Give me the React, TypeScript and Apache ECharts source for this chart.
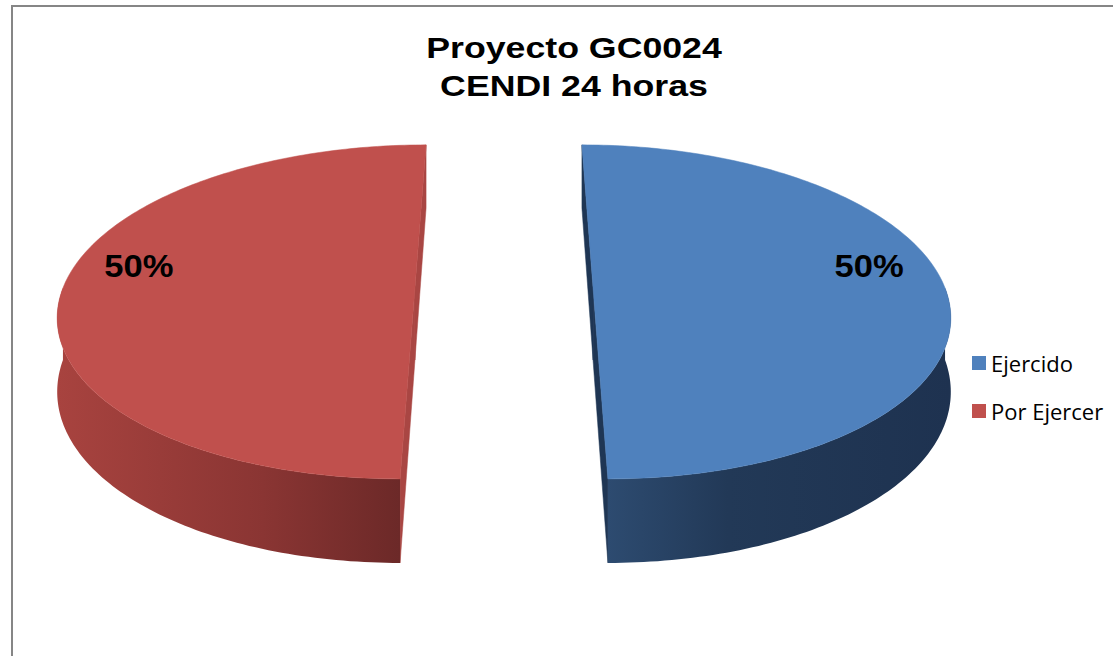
import React, { useEffect, useRef } from "react";
import * as echarts from "echarts";

// ---- data ----
const categories: string[] = ["Ejercido", "Por Ejercer"];
const values: number[] = [50, 50];
const titleText = "Proyecto GC0024\nCENDI 24 horas";

// ---- styling ----
const topColors = ["#4F81BD", "#C0504D"];
const wallStops = [
  [
    [0, "#2D4B70"],
    [0.35, "#223957"],
    [1, "#1E3250"],
  ],
  [
    [0, "#A8433F"],
    [0.6, "#8A3533"],
    [1, "#6C2928"],
  ],
];
const cutColors = ["#1F3654", "#A94643"];

// ---- 3D pie geometry ----
const CX = 504;
const CY = 288;
const RX = 352;
const RY = 163.6;
const K = 0.143; // perspective
const DEPTH = 72;
const EXPLODE = 0.253; // fraction of radius
const START_ANGLE = -90; // degrees, clockwise from 3 o'clock (screen)
const LABEL_R = 0.805;
const LABEL_RAISE = 0.14;

function proj(u: number, v: number, h: number): [number, number] {
  const s = 1 / (1 - K * v);
  return [CX + u * RX * s, CY + (v * RY + h * DEPTH) * s];
}

const total = values.reduce((a, b) => a + b, 0);

function makeRenderItem(i: number) {
  return (_params: any, api: any) => {
    const val = api.value(0);
    let cum = 0;
    for (let j = 0; j < i; j++) cum += values[j];
    const a0 = START_ANGLE + (cum / total) * 360;
    const a1 = a0 + (val / total) * 360;
    const mid = ((a0 + a1) / 2) * (Math.PI / 180);
    const ou = EXPLODE * Math.cos(mid);
    const ov = EXPLODE * Math.sin(mid);
    const pt = (deg: number, r: number, h: number) => {
      const t = (deg * Math.PI) / 180;
      return proj(ou + r * Math.cos(t), ov + r * Math.sin(t), h);
    };
    const steps = Math.max(2, Math.ceil(a1 - a0));
    const angles: number[] = [];
    for (let k = 0; k <= steps; k++) angles.push(a0 + ((a1 - a0) * k) / steps);

    const children: any[] = [];
    // radial cut faces
    [a0, a1].forEach((a) => {
      children.push({
        type: "polygon",
        shape: {
          points: [pt(0, 0, 0), pt(a, 1, 0), pt(a, 1, 1), pt(0, 0, 1)],
        },
        style: { fill: cutColors[i], stroke: cutColors[i], lineWidth: 0.5 },
      });
    });
    // outer wall (front-facing runs)
    let run: number[] = [];
    const runs: number[][] = [];
    angles.forEach((a) => {
      const sn = Math.sin((a * Math.PI) / 180);
      if (sn >= -0.001) run.push(a);
      else if (run.length) {
        runs.push(run);
        run = [];
      }
    });
    if (run.length) runs.push(run);
    runs.forEach((r) => {
      if (r.length < 2) return;
      const topPts = r.map((a) => pt(a, 1, 0));
      const botPts = r.map((a) => pt(a, 1, 1)).reverse();
      const pts = topPts.concat(botPts);
      let minX = Infinity;
      let maxX = -Infinity;
      pts.forEach((p) => {
        minX = Math.min(minX, p[0]);
        maxX = Math.max(maxX, p[0]);
      });
      children.push({
        type: "polygon",
        shape: { points: pts },
        style: {
          fill: new echarts.graphic.LinearGradient(
            minX,
            0,
            maxX,
            0,
            wallStops[i].map((s: any) => ({ offset: s[0], color: s[1] })),
            true
          ),
        },
      });
    });
    // top face
    const topFace = [pt(0, 0, 0)].concat(angles.map((a) => pt(a, 1, 0)));
    children.push({
      type: "polygon",
      shape: { points: topFace },
      style: { fill: topColors[i], stroke: topColors[i], lineWidth: 0.5 },
    });
    // percentage label
    const lp = proj(
      ou + LABEL_R * Math.cos(mid),
      ov + LABEL_R * Math.sin(mid) - LABEL_RAISE,
      0
    );
    children.push({
      type: "text",
      x: lp[0],
      y: lp[1],
      scaleX: 1.08,
      style: {
        text: Math.round((val / total) * 100) + "%",
        fill: "#000000",
        fontFamily: "Liberation Sans, Arial, sans-serif",
        fontWeight: "bold",
        fontSize: 32,
        align: "center",
        verticalAlign: "middle",
      },
    });
    return { type: "group", children };
  };
}

export default function App() {
  const ref = useRef<HTMLDivElement>(null);
  useEffect(() => {
    if (!ref.current) return;
    const chart = echarts.init(ref.current, undefined, { renderer: "svg" });
    chart.setOption({
      animation: false,
      backgroundColor: "#FFFFFF",
      color: topColors,
      legend: {
        data: categories,
        orient: "vertical",
        left: 972,
        top: 352,
        padding: 0,
        icon: "rect",
        itemWidth: 14,
        itemHeight: 14,
        itemGap: 26,
        selectedMode: false,
        textStyle: {
          fontFamily: "Open Sans, sans-serif",
          fontSize: 22,
          lineHeight: 20,
          color: "#000000",
        },
      },
      graphic: [
        {
          type: "rect",
          silent: true,
          z: -10,
          shape: { x: 12, y: 6, width: 1300, height: 900 },
          style: { fill: "none", stroke: "#868686", lineWidth: 2 },
        },
        {
          type: "text",
          x: 574,
          y: 66.5,
          scaleX: 1.19,
          style: {
            text: titleText,
            fill: "#000000",
            fontFamily: "Liberation Sans, Arial, sans-serif",
            fontWeight: "bold",
            fontSize: 30,
            lineHeight: 38,
            align: "center",
            verticalAlign: "middle",
          },
        },
      ],
      series: categories.map((name, i) => ({
        type: "custom",
        name,
        coordinateSystem: "none",
        itemStyle: { color: topColors[i] },
        data: [[values[i]]],
        renderItem: makeRenderItem(i),
        silent: true,
      })),
    });
    return () => chart.dispose();
  }, []);
  return (
    <div
      ref={ref}
      style={{ position: "absolute", left: 0, top: 0, width: 1113, height: 656 }}
    />
  );
}
